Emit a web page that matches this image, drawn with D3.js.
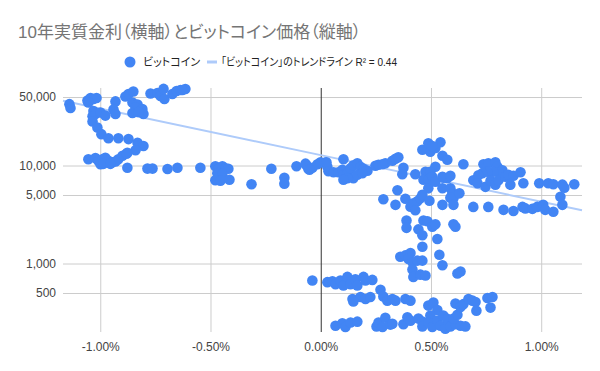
<!DOCTYPE html>
<html>
<head>
<meta charset="utf-8">
<script src="https://cdnjs.cloudflare.com/ajax/libs/d3/7.8.5/d3.min.js"></script>
<style>
  body { margin: 0; background: #fff; }
  svg { font-family: Arial, "Liberation Sans", "Noto Sans CJK JP", sans-serif; }
  .jp { font-family: Arial, "Liberation Sans", "Noto Sans CJK JP", sans-serif; font-feature-settings: "palt"; }
</style>
</head>
<body>
<svg id="chart" width="600" height="371"></svg>
<script>
// title / legend text
const titleText = "10年実質金利（横軸）とビットコイン価格（縦軸）";
const seriesName = "ビットコイン";
const trendName = "「ビットコイン」のトレンドライン R² = 0.44";

// axis ticks
const xTicks = [-1.0, -0.5, 0, 0.5, 1.0];
const yTicks = [500, 1000, 5000, 10000, 50000];
const xDomain = [-1.169, 1.185];
const yDomain = [200, 61800];

// exponential trend: log10(price) = trendIntercept + trendSlope * rate(%)
const trendIntercept = 4.106;
const trendSlope = -0.475;

// [10y real rate (%), BTC price (USD)]
const btcPoints = [
  [-1.140, 42300], [-1.135, 38600], [-1.058, 46000], [-1.044, 48900], [-1.031, 47800],
  [-1.017, 48900], [-1.054, 44000], [-0.931, 45100], [-0.886, 50700], [-0.872, 53700],
  [-0.850, 57000], [-0.854, 44000], [-0.831, 42000], [-0.840, 39000], [-0.809, 37700],
  [-0.804, 33500], [-0.854, 34300], [-0.827, 35200], [-0.940, 37300], [-0.931, 33500],
  [-1.031, 36000], [-1.035, 31900], [-1.022, 33500], [-0.999, 34800], [-0.977, 32300],
  [-1.035, 28100], [-1.013, 24400], [-0.995, 20900], [-0.963, 19000], [-0.918, 19000],
  [-0.872, 18600], [-0.831, 17100], [-0.804, 15800], [-0.840, 14300], [-0.877, 13500],
  [-0.899, 12600], [-0.918, 11600], [-1.054, 11600], [-1.022, 11900], [-1.008, 11100],
  [-0.990, 11600], [-0.977, 12000], [-0.963, 11200], [-0.945, 10800], [-0.931, 11000],
  [-0.999, 10300], [-0.986, 10400], [-0.954, 10400], [-0.881, 13200], [-0.877, 9500],
  [-0.786, 9300], [-0.763, 9300], [-0.695, 9200], [-0.650, 9500],
  [-0.772, 54300], [-0.741, 55000], [-0.727, 51300], [-0.709, 47800], [-0.713, 60500],
  [-0.673, 53700], [-0.654, 57600], [-0.636, 59000], [-0.614, 60400], [-0.627, 59000],
  [-0.546, 9500], [-0.478, 9840], [-0.464, 9280], [-0.446, 9840], [-0.432, 9380],
  [-0.419, 9280], [-0.469, 8340], [-0.446, 8250], [-0.478, 7080], [-0.455, 6990],
  [-0.414, 7150], [-0.314, 6440], [-0.224, 9280], [-0.165, 7500], [-0.165, 6530],
  [-0.110, 9840], [-0.065, 10070], [-0.056, 9280], [-0.038, 9490], [-0.015, 10300],
  [0.021, 10700], [0.030, 9720], [-0.069, 10450], [-0.051, 9060], [-0.001, 10800], [0.026, 10800],
  [0.035, 8750], [0.058, 8540], [0.080, 8540], [0.098, 9060], [0.103, 8050],
  [0.121, 8340], [0.135, 9380], [0.148, 10070], [0.166, 10560], [0.180, 9720],
  [0.194, 9280], [0.212, 8850], [0.148, 7410], [0.166, 8050], [0.189, 8340],
  [0.121, 7410], [0.103, 7150], [0.103, 11600], [0.248, 9950], [0.262, 10190],
  [0.280, 10300], [0.293, 10560], [0.325, 11200], [0.339, 11700], [0.352, 12150],
  [0.375, 9490], [0.370, 8150], [0.429, 8150], [0.461, 14500], [0.488, 16900],
  [0.497, 13800], [0.520, 15100], [0.543, 17300], [0.506, 15800], [0.520, 9720],
  [0.475, 8640], [0.497, 8640], [0.466, 7150], [0.488, 7150], [0.506, 7680],
  [0.488, 5850], [0.520, 6820], [0.552, 5860], [0.552, 7680], [0.574, 7410],
  [0.348, 5590], [0.284, 4520], [0.339, 3970], [0.384, 4580], [0.407, 3800],
  [0.420, 4110], [0.438, 4310], [0.452, 4620], [0.461, 5020], [0.429, 3490],
  [0.493, 4370], [0.552, 3970], [0.552, 12600], [0.574, 11450], [0.647, 10300],
  [0.556, 7500], [0.588, 7860], [0.588, 5860], [0.597, 5200], [0.602, 4630],
  [0.629, 5200], [0.588, 4680], [0.602, 3970], [0.602, 2510], [0.611, 2370],
  [0.738, 10300], [0.760, 10560], [0.792, 10800], [0.801, 9720], [0.824, 8960],
  [0.815, 8150], [0.783, 8640], [0.756, 8640], [0.733, 8340], [0.715, 7960],
  [0.692, 7080], [0.711, 6600], [0.747, 6060], [0.770, 6990], [0.792, 6380],
  [0.806, 7080], [0.838, 7680], [0.851, 8050], [0.874, 7860], [0.906, 8540],
  [0.860, 6380], [0.919, 6590], [0.991, 6590], [1.032, 6590], [1.055, 6440],
  [1.096, 6380], [1.105, 5930], [1.150, 6440], [1.087, 4800],
  [0.692, 3780], [0.760, 3780], [0.829, 3530], [0.874, 3440], [0.915, 3780],
  [0.928, 3650], [0.960, 3610], [0.982, 3780], [1.009, 3970], [1.018, 3530],
  [1.055, 3370], [1.096, 3970],
  [0.389, 2750], [0.389, 2310], [0.443, 2230], [0.466, 2750], [0.484, 2700],
  [0.506, 2370], [0.520, 2510], [0.461, 1940], [0.529, 1780], [0.461, 1480],
  [0.538, 1230], [0.552, 960], [0.361, 1170], [0.384, 1210], [0.407, 1280],
  [0.398, 1110], [0.416, 1030], [0.438, 1070], [0.461, 1070], [0.416, 870],
  [0.420, 730], [0.452, 770], [0.475, 755], [0.620, 790], [0.634, 830],
  [-0.038, 670], [0.030, 645], [0.053, 660], [0.067, 615], [0.089, 670],
  [0.103, 596], [0.121, 730], [0.135, 615], [0.157, 690], [0.166, 596],
  [0.194, 730], [0.203, 670], [0.234, 680], [0.144, 435], [0.180, 455],
  [0.203, 435], [0.225, 455], [0.148, 410], [0.271, 540], [0.284, 460],
  [0.302, 418], [0.325, 435], [0.339, 418], [0.384, 435], [0.407, 418],
  [0.067, 232], [0.098, 245], [0.112, 225], [0.135, 250], [0.166, 255],
  [0.253, 228], [0.262, 250], [0.293, 280], [0.280, 225], [0.316, 238],
  [0.325, 243], [0.375, 240], [0.393, 283], [0.407, 261], [0.443, 275],
  [0.461, 255], [0.461, 228], [0.488, 372], [0.511, 400], [0.529, 335],
  [0.497, 294], [0.488, 250], [0.506, 225], [0.529, 261], [0.543, 232],
  [0.565, 216], [0.556, 294], [0.574, 272], [0.588, 228], [0.611, 240],
  [0.634, 232], [0.656, 228], [0.602, 275], [0.620, 300], [0.611, 390],
  [0.634, 360], [0.647, 385], [0.670, 435], [0.688, 418], [0.702, 405],
  [0.706, 330], [0.756, 445], [0.779, 455], [0.770, 355]
];

function init() {
    const svg = d3.select("#chart");
    const margin = {top: 88, right: 18, bottom: 39, left: 63};
    const width = 600 - margin.left - margin.right;
    const height = 371 - margin.top - margin.bottom;

    const x = d3.scaleLinear().domain(xDomain).range([0, width]);
    const y = d3.scaleLog().domain(yDomain).range([height, 0]);

    // title
    svg.append("text")
        .attr("class", "jp")
        .attr("x", 18)
        .attr("y", 38)
        .attr("font-size", 17)
        .attr("fill", "#757575")
        .text(titleText);

    // legend
    const legend = svg.append("g").attr("class", "jp").attr("font-size", 11).attr("fill", "#222");
    legend.append("circle").attr("cx", 130).attr("cy", 62).attr("r", 5.5).attr("fill", "#4285f4");
    legend.append("text").attr("x", 143).attr("y", 66).text(seriesName);
    legend.append("line")
        .attr("x1", 207).attr("x2", 217).attr("y1", 62).attr("y2", 62)
        .attr("stroke", "#aecbfa").attr("stroke-width", 3);
    legend.append("text").attr("x", 221).attr("y", 66)
        .attr("textLength", 176).attr("lengthAdjust", "spacingAndGlyphs")
        .text(trendName);

    const g = svg.append("g").attr("transform", `translate(${margin.left},${margin.top})`);

    // gridlines
    const xAxis = d3.axisBottom(x).tickValues(xTicks)
        .tickSize(-height).tickPadding(10)
        .tickFormat(d => d.toFixed(2) + "%");
    const xg = g.append("g").attr("transform", `translate(0,${height})`).call(xAxis);
    xg.select(".domain").remove();
    xg.selectAll(".tick line").attr("stroke", d => d === 0 ? "#333" : "#ccc");
    xg.selectAll(".tick text").attr("font-size", 12).attr("fill", "#444")
        .attr("font-family", "Arial, 'Liberation Sans', sans-serif");

    const yAxis = d3.axisLeft(y).tickValues(yTicks)
        .tickSize(-width).tickPadding(7)
        .tickFormat(d3.format(","));
    const yg = g.append("g").call(yAxis);
    yg.select(".domain").remove();
    yg.selectAll(".tick line").attr("stroke", "#ccc");
    yg.selectAll(".tick text").attr("font-size", 12).attr("fill", "#444")
        .attr("font-family", "Arial, 'Liberation Sans', sans-serif");

    // zero line on top of the horizontal grid
    xg.raise();

    // trendline
    const trendData = [xDomain[0], 0, xDomain[1]];
    const line = d3.line()
        .x(d => x(d))
        .y(d => y(Math.pow(10, trendIntercept + trendSlope * d)));
    g.append("path")
        .datum(trendData)
        .attr("d", line)
        .attr("fill", "none")
        .attr("stroke", "#aecbfa")
        .attr("stroke-width", 2);

    // points
    g.append("g")
        .selectAll("circle")
        .data(btcPoints)
        .join("circle")
        .attr("cx", d => x(d[0]))
        .attr("cy", d => y(d[1]))
        .attr("r", 5.3)
        .attr("fill", "#4285f4");
}

window.onload = init;
</script>
</body>
</html>
